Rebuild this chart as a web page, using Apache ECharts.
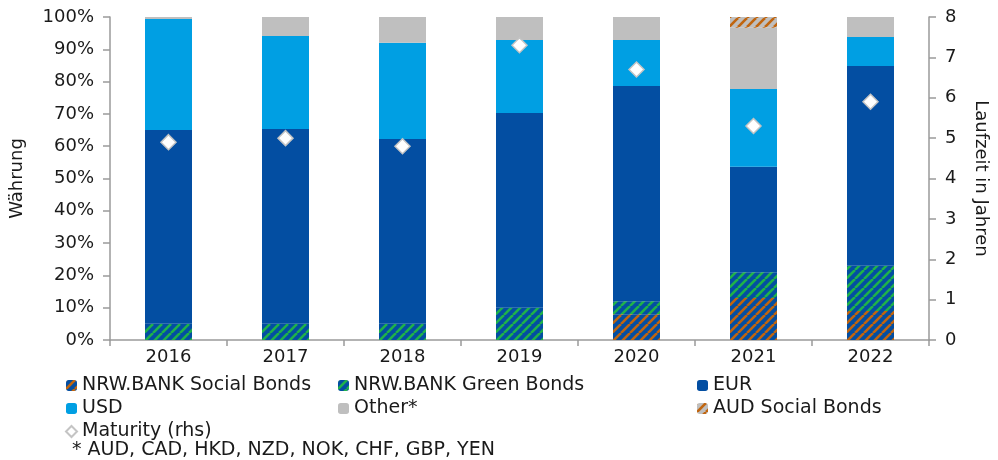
<!DOCTYPE html>
<html>
<head>
<meta charset="utf-8">
<script src="https://cdn.jsdelivr.net/npm/echarts@6/dist/echarts.min.js"></script>
<style>
  html, body { margin: 0; padding: 0; background: #fff; }
  #chart { width: 998px; height: 460px; }
</style>
</head>
<body>
<div id="chart"></div>
<script>
const years = ['2016', '2017', '2018', '2019', '2020', '2021', '2022'];
// shares in % of issuance, stacked from bottom
const socialBonds = [0, 0, 0, 0, 8, 13, 9];
const greenBonds = [5, 5, 5, 10, 4, 8, 14];
const eur = [60, 60.3, 57.2, 60.3, 66.6, 32.6, 61.8];
const usd = [34.4, 28.8, 29.8, 22.6, 14.3, 24.1, 9];
const other = [0.6, 5.9, 8, 7.1, 7.1, 19, 6.2];
const audSocial = [0, 0, 0, 0, 0, 3.3, 0];
// maturity in years (rhs)
const maturity = [4.9, 5.0, 4.8, 7.3, 6.7, 5.3, 5.9];

const pctTicks = ['0%', '10%', '20%', '30%', '40%', '50%', '60%', '70%', '80%', '90%', '100%'];

const BLUE = '#034ea2';
const LIGHT = '#009fe3';
const GREY = '#bfbfbf';
const GREEN = '#1fb24a';
const ORANGE = '#c0650f';

// striped fill like the excel hatch
function hatch(bg, fg) {
  const n = 9;
  const c = document.createElement('canvas');
  c.width = n; c.height = n;
  const ctx = c.getContext('2d');
  ctx.fillStyle = bg;
  ctx.fillRect(0, 0, n, n);
  ctx.strokeStyle = fg;
  ctx.lineWidth = 2.6;
  for (let k = -1; k <= 1; k++) {
    ctx.beginPath();
    ctx.moveTo(k * n, n);
    ctx.lineTo(k * n + n, 0);
    ctx.stroke();
  }
  return { image: c, repeat: 'repeat' };
}

const chart = echarts.init(document.getElementById('chart'));
const font = 'DejaVu Sans';
const fs = 18;
const txt = '#1a1a1a';
const axisGrey = '#9a9a9a';

function barSeries(name, data, color) {
  return {
    name: name,
    type: 'bar',
    stack: 'cur',
    barWidth: 47,
    data: data,
    itemStyle: { color: color },
    emphasis: { disabled: true }
  };
}

const legendText = { fontSize: 19, fontFamily: font, color: txt, lineHeight: 18 };

chart.setOption({
  animation: false,
  textStyle: { fontFamily: font },
  grid: { left: 110, right: 53, top: 17, bottom: 120 },
  legend: [
    {
      orient: 'vertical', left: 60, top: 371, itemGap: 4,
      itemWidth: 11, itemHeight: 11,
      data: ['NRW.BANK Social Bonds', 'USD', 'Maturity (rhs)'],
      textStyle: legendText
    },
    {
      orient: 'vertical', left: 333, top: 371, itemGap: 4,
      itemWidth: 11, itemHeight: 11,
      data: ['NRW.BANK Green Bonds', 'Other*'],
      textStyle: legendText
    },
    {
      orient: 'vertical', left: 692, top: 371, itemGap: 4,
      itemWidth: 11, itemHeight: 11,
      data: ['EUR', 'AUD Social Bonds'],
      textStyle: legendText
    }
  ],
  graphic: [{
    type: 'text', left: 72, top: 441,
    style: { text: '* AUD, CAD, HKD, NZD, NOK, CHF, GBP, YEN', fontSize: 19, fontFamily: font, fill: txt }
  }],
  xAxis: {
    type: 'category',
    data: years,
    axisLine: { lineStyle: { color: axisGrey, width: 1.5 } },
    axisTick: { show: true, length: 6, lineStyle: { color: axisGrey, width: 1.5 } },
    axisLabel: { fontSize: fs, color: txt, margin: 8 }
  },
  yAxis: [
    {
      type: 'value', min: 0, max: 100, interval: 10,
      name: 'Währung', nameLocation: 'middle', nameGap: 84,
      nameTextStyle: { fontSize: fs, color: txt },
      axisLine: { show: true, lineStyle: { color: axisGrey, width: 1.5 } },
      axisTick: { show: true, length: 7, lineStyle: { color: axisGrey, width: 1.5 } },
      splitLine: { show: false },
      axisLabel: {
        fontSize: fs, color: txt, margin: 16,
        formatter: function (v) { return pctTicks[Math.round(v / 10)]; }
      }
    },
    {
      type: 'value', min: 0, max: 8, interval: 1,
      name: 'Laufzeit in Jahren', nameLocation: 'middle', nameGap: 43, nameRotate: -90,
      nameTextStyle: { fontSize: fs, color: txt },
      axisLine: { show: true, lineStyle: { color: axisGrey, width: 1.5 } },
      axisTick: { show: true, length: 7, lineStyle: { color: axisGrey, width: 1.5 } },
      splitLine: { show: false },
      axisLabel: { fontSize: fs, color: txt, margin: 16 }
    }
  ],
  series: [
    barSeries('NRW.BANK Social Bonds', socialBonds, hatch(BLUE, ORANGE)),
    barSeries('NRW.BANK Green Bonds', greenBonds, hatch(BLUE, GREEN)),
    barSeries('EUR', eur, BLUE),
    barSeries('USD', usd, LIGHT),
    barSeries('Other*', other, GREY),
    barSeries('AUD Social Bonds', audSocial, hatch(GREY, ORANGE)),
    {
      name: 'Maturity (rhs)',
      type: 'scatter',
      yAxisIndex: 1,
      symbol: 'diamond',
      symbolSize: 15,
      data: maturity,
      itemStyle: { color: '#ffffff', borderColor: '#c4c4c4', borderWidth: 1.5, opacity: 1 },
      emphasis: { disabled: true },
      z: 5
    }
  ]
});
</script>
</body>
</html>
